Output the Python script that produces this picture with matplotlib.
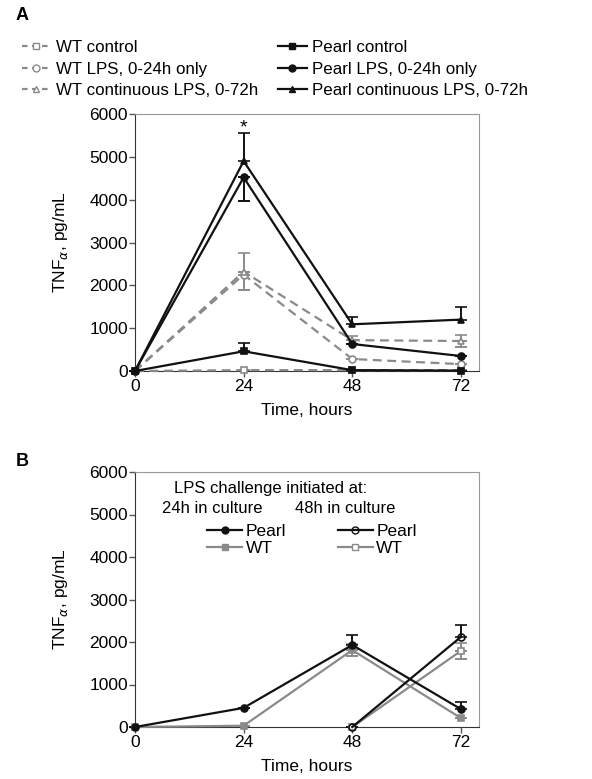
import numpy as np
import matplotlib
matplotlib.use('Agg')
import matplotlib.pyplot as plt
from matplotlib.lines import Line2D

plt.rcParams['font.family'] = ['Liberation Sans', 'DejaVu Sans']
plt.rcParams['font.size'] = 12

## panel A data (pg/mL)
hours = [0, 24, 48, 72]
wt_control = [0, 20, 20, 20]
wt_control_err = [0, 0, 0, 0]
wt_lps24 = [0, 2250, 280, 160]
wt_lps24_err = [0, 0, 0, 0]
wt_cont = [0, 2320, 720, 700]
wt_cont_err = [0, 430, 90, 150]
pearl_control = [0, 460, 20, 10]
pearl_control_err = [0, 190, 0, 0]
pearl_lps24 = [0, 4520, 630, 350]
pearl_lps24_err = [0, 560, 0, 0]
pearl_cont = [0, 4900, 1090, 1200]
pearl_cont_err = [0, 650, 170, 290]

## panel B data
hours_24 = [0, 24, 48, 72]
pearl_24 = [0, 450, 1930, 420]
pearl_24_err = [0, 0, 230, 180]
wt_24 = [0, 30, 1810, 210]
wt_24_err = [0, 0, 140, 0]
hours_48 = [48, 72]
pearl_48 = [0, 2120]
pearl_48_err = [0, 280]
wt_48 = [0, 1790]
wt_48_err = [0, 190]

grey = '#8a8a8a'
black = '#111111'

fig = plt.figure(figsize=(5.92, 7.79), dpi=100)
W, H = 592., 779.
axA = fig.add_axes([135/W, 1-371/H, 344/W, 257/H])
axB = fig.add_axes([135/W, 1-727/H, 344/W, 255/H])


def style_axes(ax):
    ax.set_xlim(0, 76)
    ax.set_ylim(0, 6000)
    ax.set_xticks([0, 24, 48, 72])
    ax.set_yticks(np.arange(0, 6001, 1000))
    ax.spines['left'].set_color('#333333')
    ax.spines['bottom'].set_color('#333333')
    ax.spines['top'].set_color('#999999')
    ax.spines['right'].set_color('#999999')
    ax.tick_params(direction='out', length=4, width=1, color='#555555', pad=1, labelsize=12.5)
    ax.tick_params(axis='x', pad=2)
    ax.set_xlabel('Time, hours', labelpad=6, fontsize=12.5)
    ax.set_ylabel('TNF$_{\\alpha}$, pg/mL', labelpad=14, fontsize=12.5)


def series(ax, x, y, err, color, ls, marker, mfc, lw=1.6):
    ax.errorbar(x, y, yerr=[np.zeros(len(err)), err], color=color, ls=ls, lw=lw,
                marker=marker, ms=5, mfc=mfc, mec=color, mew=1.2,
                capsize=4, capthick=1.4, elinewidth=1.4, clip_on=False, zorder=3)


## panel A
series(axA, hours, wt_control, wt_control_err, grey, (0, (4, 2.5)), 's', 'white')
series(axA, hours, wt_lps24, wt_lps24_err, grey, (0, (4, 2.5)), 'o', 'white')
series(axA, hours, wt_cont, wt_cont_err, grey, (0, (4, 2.5)), '^', 'white')
# lower halves of the error bars
axA.errorbar(hours, wt_cont, yerr=[wt_cont_err, [0]*4], fmt='none', ecolor=grey,
             capsize=4, capthick=1.4, elinewidth=1.4, clip_on=False)
axA.errorbar(hours, pearl_lps24, yerr=[pearl_lps24_err, [0]*4], fmt='none', ecolor=black,
             capsize=4, capthick=1.4, elinewidth=1.4, clip_on=False)
series(axA, hours, pearl_control, pearl_control_err, black, '-', 's', black)
series(axA, hours, pearl_lps24, [0]*4, black, '-', 'o', black)
series(axA, hours, pearl_cont, pearl_cont_err, black, '-', '^', black)
axA.text(24, 5680, '*', ha='center', va='center', fontsize=14)
style_axes(axA)

wt_handles = [Line2D([], [], color=grey, ls=(0, (2.5, 2)), lw=1.6, marker=m, ms=5, mfc='white', mec=grey)
              for m in ['s', 'o', '^']]
pearl_handles = [Line2D([], [], color=black, ls='-', lw=1.6, marker=m, ms=5, mfc=black, mec=black)
                 for m in ['s', 'o', '^']]
legA1 = axA.legend(wt_handles, ['WT control', 'WT LPS, 0-24h only', 'WT continuous LPS, 0-72h'],
                   loc='upper left', bbox_to_anchor=(15/W, 1-33/H), bbox_transform=fig.transFigure,
                   frameon=False, fontsize=12.2,
                   handlelength=1.7, handletextpad=0.3, labelspacing=0.4, borderaxespad=0)
axA.add_artist(legA1)
axA.legend(pearl_handles, ['Pearl control', 'Pearl LPS, 0-24h only', 'Pearl continuous LPS, 0-72h'],
           loc='upper left', bbox_to_anchor=(271/W, 1-33/H), bbox_transform=fig.transFigure,
           frameon=False, fontsize=12.2,
           handlelength=1.7, handletextpad=0.3, labelspacing=0.4, borderaxespad=0)

## panel B
series(axB, hours_24, wt_24, wt_24_err, grey, '-', 's', grey)
axB.errorbar(hours_24, wt_24, yerr=[wt_24_err, [0]*4], fmt='none', ecolor=grey,
             capsize=4, capthick=1.4, elinewidth=1.4, clip_on=False)
series(axB, hours_48, wt_48, wt_48_err, grey, '-', 's', 'white')
axB.errorbar(hours_48, wt_48, yerr=[wt_48_err, [0]*2], fmt='none', ecolor=grey,
             capsize=4, capthick=1.4, elinewidth=1.4, clip_on=False)
series(axB, hours_24, pearl_24, pearl_24_err, black, '-', 'o', black)
series(axB, hours_48, pearl_48, pearl_48_err, black, '-', 'o', 'none')
style_axes(axB)

axB.text(0.395, 0.935, 'LPS challenge initiated at:', transform=axB.transAxes, ha='center', va='center', fontsize=12)
axB.text(0.225, 0.855, '24h in culture', transform=axB.transAxes, ha='center', va='center', fontsize=12)
axB.text(0.61, 0.855, '48h in culture', transform=axB.transAxes, ha='center', va='center', fontsize=12)
hB = [Line2D([], [], color=black, lw=1.6, marker='o', ms=5, mfc=black, mec=black),
      Line2D([], [], color=grey, lw=1.6, marker='s', ms=5, mfc=grey, mec=grey),
      Line2D([], [], color=black, lw=1.6, marker='o', ms=5, mfc='none', mec=black),
      Line2D([], [], color=grey, lw=1.6, marker='s', ms=5, mfc='white', mec=grey)]
axB.legend(hB, ['Pearl', 'WT', 'Pearl', 'WT'], ncol=2, loc='upper left', fontsize=12.5,
           bbox_to_anchor=(0.19, 0.825), frameon=False, handlelength=2.0,
           handletextpad=0.2, labelspacing=0.15, columnspacing=3.0, borderaxespad=0)

fig.text(16/W, 1-15/H, 'A', fontweight='bold', fontsize=13, va='center')
fig.text(16/W, 1-462/H, 'B', fontweight='bold', fontsize=13, va='center')

plt.savefig('out.png', dpi=100)
